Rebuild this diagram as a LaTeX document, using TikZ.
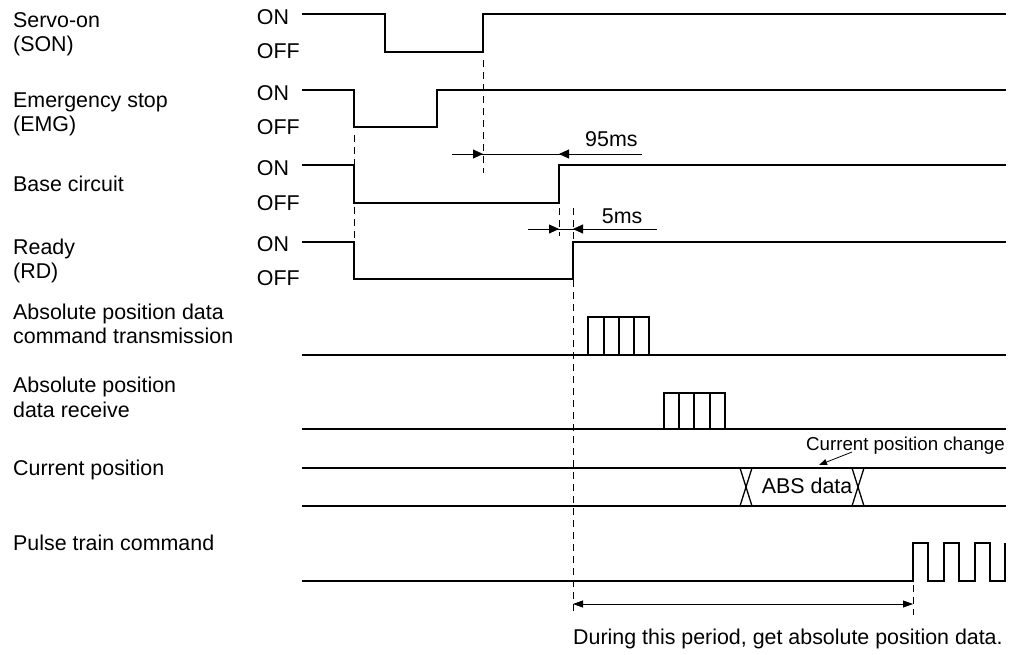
\documentclass[tikz,border=0pt]{standalone}
\usepackage{fontspec}
\setmainfont{Liberation Sans}
\usetikzlibrary{arrows.meta}
\begin{document}
\begin{tikzpicture}[x=1pt,y=-1pt,
  lbl/.style={anchor=base west, inner sep=0pt, font=\fontsize{21.4}{24}\selectfont},
  smalllbl/.style={anchor=base west, inner sep=0pt, font=\fontsize{18.7}{22}\selectfont},
  wave/.style={line width=1.3pt, line join=miter},
  thickbase/.style={line width=1.8pt},
  dsh/.style={line width=1pt, dash pattern=on 7pt off 5pt},
  dimline/.style={line width=0.8pt},
  tipr/.style={-{Triangle[length=10pt,width=9pt]}},
  tips/.style={{Triangle[length=10pt,width=7pt]}-{Triangle[length=10pt,width=7pt]}}
]
\useasboundingbox[fill=white] (0,0) rectangle (1018,654);

% left labels
\node[lbl] (son1) at (13,27) {Servo-on};
\node[lbl] (son2) at (13,51.5) {(SON)};
\node[lbl] (emg1) at (13,107) {Emergency stop};
\node[lbl] (emg2) at (13,131) {(EMG)};
\node[lbl] (bc) at (13,191) {Base circuit};
\node[lbl] (rd1) at (13,254) {Ready};
\node[lbl] (rd2) at (13,278.5) {(RD)};
\node[lbl] (abs1) at (13,319.3) {Absolute position data};
\node[lbl] (abs2) at (13,343.3) {command transmission};
\node[lbl] (rcv1) at (13,392.7) {Absolute position};
\node[lbl] (rcv2) at (13,417.3) {data receive};
\node[lbl] (cp) at (13,475) {Current position};
\node[lbl] (pt) at (13,550) {Pulse train command};

% ON / OFF
\node[lbl] (on1) at (256.7,24.3) {ON};
\node[lbl] (off1) at (256.7,58.3) {OFF};
\node[lbl] (on2) at (256.7,100) {ON};
\node[lbl] (off2) at (256.7,134.3) {OFF};
\node[lbl] (on3) at (256.7,175) {ON};
\node[lbl] (off3) at (256.7,210) {OFF};
\node[lbl] (on4) at (256.7,251.7) {ON};
\node[lbl] (off4) at (256.7,285.7) {OFF};

% dashed guide lines
\draw[dsh] (483,60) -- (483,173);
\draw[dsh] (354,135) -- (354,240);
\draw[dsh] (559,208) -- (559,236);
\draw[dsh] (573,208) -- (573,615);
\draw[dsh] (913,585) -- (913,615);

% waveforms
\draw[wave] (302,14) -- (385,14) -- (385,52) -- (483,52) -- (483,14) -- (1006,14);
\draw[wave] (302,90) -- (354,90) -- (354,127) -- (437,127) -- (437,90) -- (1006,90);
\draw[wave] (302,165) -- (354,165) -- (354,203) -- (559,203) -- (559,165) -- (1006,165);
\draw[wave] (302,242) -- (354,242) -- (354,279) -- (573,279) -- (573,242) -- (1006,242);

% 95ms
\draw[dimline] (452,154) -- (642,154);
\draw[dimline,tipr] (452,154) -- (483,154);
\draw[dimline,tipr] (642,154) -- (559,154);
\node[lbl] (t95) at (585,146.7) {95ms};

% 5ms
\draw[dimline] (528,229) -- (657,229);
\draw[dimline,tipr] (528,229) -- (559,229);
\draw[dimline,tipr] (657,229) -- (573,229);
\node[lbl] (t5) at (601.7,223.3) {5ms};

% command transmission
\draw[thickbase] (302,355) -- (1006,355);
\draw[wave] (588,355) -- (588,317) -- (649,317) -- (649,355);
\draw[wave] (604,317) -- (604,355) (619,317) -- (619,355) (634,317) -- (634,355);

% receive
\draw[thickbase] (302,429) -- (1006,429);
\draw[wave] (664,429) -- (664,393) -- (725,393) -- (725,429);
\draw[wave] (679,393) -- (679,429) (694,393) -- (694,429) (710,393) -- (710,429);

% current position
\draw[thickbase] (302,468) -- (1006,468);
\draw[thickbase] (302,506) -- (1006,506);
\draw[wave] (740,468) -- (752,506) (752,468) -- (740,506);
\draw[wave] (852,468) -- (864,506) (864,468) -- (852,506);
\node[lbl] (absd) at (761.7,493) {ABS data};
\node[smalllbl] (cpc) at (806,450) {Current position change};
\draw[dimline,-{Triangle[length=8pt,width=6pt]}] (852,452) -- (819,465);

% pulse train
\draw[wave] (302,581) -- (913,581) -- (913,543) -- (928,543) -- (928,581) -- (944,581) -- (944,543) -- (959,543) -- (959,581) -- (975,581) -- (975,543) -- (990,543) -- (990,581) -- (1005,581) -- (1005,543);

% period
\draw[dimline,tips] (573,604) -- (913,604);
\node[lbl] (period) at (573,644) {During this period, get absolute position data.};
\end{tikzpicture}
\end{document}
